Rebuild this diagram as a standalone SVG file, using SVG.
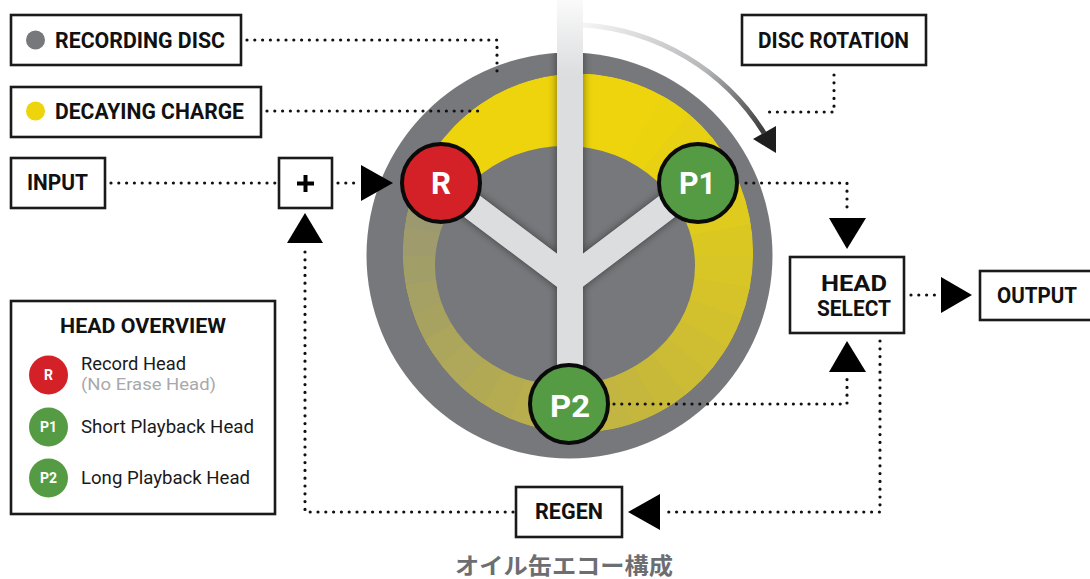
<svg xmlns="http://www.w3.org/2000/svg" width="1090" height="579" viewBox="0 0 1090 579">
<defs>
<style>
.box{fill:#fff;stroke:#1a1a1a;stroke-width:2.6}
.lbl{font-family:Roboto,"Liberation Sans",sans-serif;font-weight:700;font-size:22px;fill:#111}
.leg{font-family:Roboto,"Liberation Sans",sans-serif;font-size:17.5px;fill:#1a1a1a}
.dot{fill:none;stroke:#111;stroke-width:3.2;stroke-linecap:round;stroke-dasharray:0 7.8}
.arw{fill:#000}
.head{stroke:#0a0a0a;stroke-width:4}
.hl{font-family:Roboto,"Liberation Sans",sans-serif;font-weight:700;font-size:32px;fill:#fff}
.sl{font-family:Roboto,"Liberation Sans",sans-serif;font-weight:700;font-size:14px;fill:#fff;text-anchor:middle}
.red{fill:#D42127}
.grn{fill:#559B43}
.gry{fill:#77787B}
.yel{fill:#EDD40C}
.y{stroke:url(#shaftg);fill:none;stroke-width:26}
</style>
<linearGradient id="shaftg" gradientUnits="userSpaceOnUse" x1="0" y1="0" x2="0" y2="75">
<stop offset="0" stop-color="#FAFAFA"/><stop offset="1" stop-color="#DCDDDF"/>
</linearGradient>
<linearGradient id="rotg" gradientUnits="userSpaceOnUse" x1="585" y1="25" x2="775" y2="150">
<stop offset="0" stop-color="#F4F4F4"/><stop offset="0.55" stop-color="#B5B6B8"/><stop offset="1" stop-color="#1E1E1E"/>
</linearGradient>
<clipPath id="ringclip"><ellipse cx="578" cy="253" rx="175" ry="179.5"/></clipPath>
<clipPath id="discclip"><circle cx="569.5" cy="255.5" r="203"/></clipPath>
<filter id="sh" x="-30%" y="-30%" width="160%" height="160%">
<feDropShadow dx="0" dy="0" stdDeviation="4" flood-color="#000" flood-opacity="0.5"/>
</filter>
<path id="wg" d="M570 256 L570 46 L608.3 49.5 Z"/>
</defs>

<g id="disc">
<circle class="gry" cx="569.5" cy="255.5" r="203"/>
<g id="decay-ring" clip-path="url(#ringclip)">
<ellipse class="yel" cx="578" cy="253" rx="175" ry="179.5"/>
<use href="#wg" fill="#EBD30E" transform="rotate(30 570 256)"/>
<use href="#wg" fill="#E8D012" transform="rotate(40 570 256)"/>
<use href="#wg" fill="#E5CE16" transform="rotate(50 570 256)"/>
<use href="#wg" fill="#E2CC1A" transform="rotate(60 570 256)"/>
<use href="#wg" fill="#DFCA1E" transform="rotate(70 570 256)"/>
<use href="#wg" fill="#DBC722" transform="rotate(80 570 256)"/>
<use href="#wg" fill="#D8C526" transform="rotate(90 570 256)"/>
<use href="#wg" fill="#D5C329" transform="rotate(100 570 256)"/>
<use href="#wg" fill="#D2C02D" transform="rotate(110 570 256)"/>
<use href="#wg" fill="#CFBE31" transform="rotate(120 570 256)"/>
<use href="#wg" fill="#CCBC35" transform="rotate(130 570 256)"/>
<use href="#wg" fill="#C8B939" transform="rotate(140 570 256)"/>
<use href="#wg" fill="#C5B73D" transform="rotate(150 570 256)"/>
<use href="#wg" fill="#C2B541" transform="rotate(160 570 256)"/>
<use href="#wg" fill="#BFB345" transform="rotate(170 570 256)"/>
<use href="#wg" fill="#BCB049" transform="rotate(180 570 256)"/>
<use href="#wg" fill="#B8AE4D" transform="rotate(190 570 256)"/>
<use href="#wg" fill="#B5AC51" transform="rotate(200 570 256)"/>
<use href="#wg" fill="#B2A955" transform="rotate(210 570 256)"/>
<use href="#wg" fill="#AFA759" transform="rotate(220 570 256)"/>
<use href="#wg" fill="#ACA55C" transform="rotate(230 570 256)"/>
<use href="#wg" fill="#A8A260" transform="rotate(240 570 256)"/>
<use href="#wg" fill="#A5A064" transform="rotate(250 570 256)"/>
<use href="#wg" fill="#A29E68" transform="rotate(260 570 256)"/>
<use href="#wg" fill="#9F9B6C" transform="rotate(270 570 256)"/>
<use href="#wg" fill="#9C9970" transform="rotate(280 570 256)"/>
<use href="#wg" fill="#9A9872" transform="rotate(290 570 256)"/>
</g>
<ellipse class="gry" cx="565" cy="265.5" rx="130" ry="119.5"/>
<g clip-path="url(#discclip)">
<g filter="url(#sh)">
<path class="y" d="M570 0 V404 M441 183 L570 280 M698 183 L570 280"/>
</g>
</g>
<path class="y" d="M570 0 V404 M441 183 L570 280 M698 183 L570 280"/>
</g>

<g id="disc-rotation-arrow">
<path d="M583 25 A231 231 0 0 1 764 133" fill="none" stroke="url(#rotg)" stroke-width="5"/>
<polygon points="753,139 776,126 776,153" fill="#1E1E1E"/>
</g>

<g id="head-R">
<circle class="head red" cx="441" cy="183" r="39"/>
<text class="hl" x="431" y="194" textLength="20" lengthAdjust="spacingAndGlyphs">R</text>
</g>
<g id="head-P1">
<circle class="head grn" cx="698" cy="183" r="39"/>
<text class="hl" x="679" y="194" textLength="37" lengthAdjust="spacingAndGlyphs">P1</text>
</g>
<g id="head-P2">
<circle class="head grn" cx="569" cy="404" r="39"/>
<text class="hl" x="550" y="417" textLength="40" lengthAdjust="spacingAndGlyphs">P2</text>
</g>

<g id="connectors">
<path class="dot" d="M247 40 H497 V73"/>
<path class="dot" d="M267 111 H482"/>
<path class="dot" d="M111 183 H276"/>
<path class="dot" d="M338 183 H357"/>
<polygon class="arw" points="361,165 361,201 393,183"/>
<path class="dot" d="M834 75 V112 H766"/>
<path class="dot" d="M746 183 H847 V214"/>
<polygon class="arw" points="829,218 866,218 847,249"/>
<path class="dot" d="M911 295 H935"/>
<polygon class="arw" points="941,277 941,313 972,295"/>
<path class="dot" d="M614 404 H847 V377"/>
<polygon class="arw" points="847,341 829,372 866,372"/>
<path class="dot" d="M880 341 V512 H665"/>
<polygon class="arw" points="628,512 660,494 660,530"/>
<path class="dot" d="M513 512 H305 V249"/>
<polygon class="arw" points="305,213 287,243 323,243"/>
</g>

<g id="box-recording-disc">
<rect class="box" x="11" y="15" width="230" height="50"/>
<circle class="gry" cx="35.5" cy="40" r="9.5"/>
<text class="lbl" x="55" y="48" textLength="170" lengthAdjust="spacingAndGlyphs">RECORDING DISC</text>
</g>
<g id="box-decaying-charge">
<rect class="box" x="11" y="87" width="250" height="50"/>
<circle class="yel" cx="35.5" cy="111" r="9.5"/>
<text class="lbl" x="55" y="119" textLength="189" lengthAdjust="spacingAndGlyphs">DECAYING CHARGE</text>
</g>
<g id="box-input">
<rect class="box" x="11" y="158" width="94" height="50"/>
<text class="lbl" x="27" y="190" textLength="61" lengthAdjust="spacingAndGlyphs">INPUT</text>
</g>
<g id="box-sum">
<rect class="box" x="279" y="158" width="53" height="50"/>
<path d="M297 183.5 H314 M305.5 175 V192" stroke="#000" stroke-width="4"/>
</g>
<g id="box-disc-rotation">
<rect class="box" x="742" y="15" width="184" height="50"/>
<text class="lbl" x="758" y="48" textLength="151" lengthAdjust="spacingAndGlyphs">DISC ROTATION</text>
</g>
<g id="box-head-select">
<rect class="box" x="790" y="257" width="114" height="76"/>
<text class="lbl" x="821" y="291" textLength="66" lengthAdjust="spacingAndGlyphs">HEAD</text>
<text class="lbl" x="817" y="316" textLength="74" lengthAdjust="spacingAndGlyphs">SELECT</text>
</g>
<g id="box-output">
<rect class="box" x="980" y="271" width="115" height="49"/>
<text class="lbl" x="997" y="303" textLength="80" lengthAdjust="spacingAndGlyphs">OUTPUT</text>
</g>
<g id="box-regen">
<rect class="box" x="516" y="487" width="106" height="50"/>
<text class="lbl" x="535" y="519" textLength="68" lengthAdjust="spacingAndGlyphs">REGEN</text>
</g>

<g id="head-overview">
<rect class="box" x="11" y="301" width="264" height="213"/>
<text class="lbl" x="60" y="333" style="font-size:19.5px" textLength="166" lengthAdjust="spacingAndGlyphs">HEAD OVERVIEW</text>
<circle class="red" cx="48.5" cy="375" r="19.5"/>
<text class="sl" x="48.5" y="380">R</text>
<text class="leg" x="81" y="370" textLength="105" lengthAdjust="spacingAndGlyphs">Record Head</text>
<text class="leg" x="81" y="390" style="fill:#A7A9AC;font-size:16.5px" textLength="135" lengthAdjust="spacingAndGlyphs">(No Erase Head)</text>
<circle class="grn" cx="48.5" cy="427" r="19.5"/>
<text class="sl" x="48.5" y="432">P1</text>
<text class="leg" x="81" y="433" textLength="173" lengthAdjust="spacingAndGlyphs">Short Playback Head</text>
<circle class="grn" cx="48.5" cy="478" r="19.5"/>
<text class="sl" x="48.5" y="483">P2</text>
<text class="leg" x="81" y="484" textLength="169" lengthAdjust="spacingAndGlyphs">Long Playback Head</text>
</g>

<text id="caption" x="455" y="574" font-family="'Noto Sans CJK JP', sans-serif" font-weight="700" font-size="22.5" fill="#6D6E71" textLength="218" lengthAdjust="spacingAndGlyphs">オイル缶エコー構成</text>
</svg>
